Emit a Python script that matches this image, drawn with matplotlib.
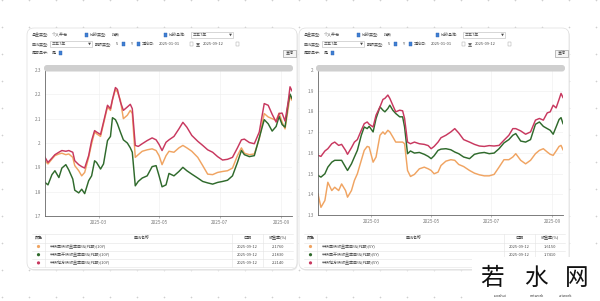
import matplotlib
matplotlib.use("Agg")
import matplotlib.pyplot as plt
import matplotlib.dates as mdates
from matplotlib.patches import FancyBboxPatch, Rectangle, Circle
import numpy as np

plt.rcParams["font.family"] = ["Noto Sans CJK SC", "DejaVu Sans"]

dates = ["2025-01-06", "2025-01-09", "2025-01-13", "2025-01-16", "2025-01-20", "2025-01-23", "2025-01-27", "2025-01-30",
         "2025-02-03", "2025-02-05", "2025-02-09", "2025-02-12", "2025-02-15", "2025-02-19", "2025-02-22", "2025-02-25", "2025-02-27",
         "2025-03-03", "2025-03-06", "2025-03-10", "2025-03-13", "2025-03-15", "2025-03-18", "2025-03-20", "2025-03-23", "2025-03-26", "2025-03-30",
         "2025-04-02", "2025-04-04", "2025-04-07", "2025-04-10", "2025-04-14", "2025-04-19", "2025-04-24", "2025-04-28",
         "2025-05-01", "2025-05-04", "2025-05-08", "2025-05-11", "2025-05-16", "2025-05-21", "2025-05-25", "2025-05-29",
         "2025-06-03", "2025-06-09", "2025-06-14", "2025-06-19", "2025-06-24", "2025-06-29",
         "2025-07-04", "2025-07-09", "2025-07-14", "2025-07-19", "2025-07-23", "2025-07-26", "2025-07-31",
         "2025-08-05", "2025-08-10", "2025-08-15", "2025-08-19", "2025-08-23", "2025-08-27", "2025-08-30",
         "2025-09-02", "2025-09-05", "2025-09-08", "2025-09-10", "2025-09-12"]

left_orange = [1.927, 1.914, 1.934, 1.948, 1.955, 1.958, 1.952, 1.955,
               1.941, 1.907, 1.886, 1.865, 1.879, 1.941, 1.997, 2.045, 2.038,
               2.027, 2.079, 2.148, 2.134, 2.176, 2.220, 2.210, 2.176, 2.100, 2.114,
               2.134, 2.121, 1.941, 1.952, 1.966, 1.972, 1.976, 1.969,
               1.948, 1.911, 1.948, 1.966, 1.962, 1.980, 1.990, 1.980,
               1.966, 1.941, 1.907, 1.872, 1.870, 1.879,
               1.883, 1.886, 1.897, 1.948, 1.980, 1.958, 1.952,
               1.955, 2.017, 2.121, 2.107, 2.100, 2.093, 2.123,
               2.086, 2.058, 2.137, 2.193, 2.176]
left_green = [1.838, 1.828, 1.870, 1.886, 1.858, 1.897, 1.911, 1.889,
              1.852, 1.806, 1.795, 1.810, 1.792, 1.845, 1.865, 1.927, 1.920,
              1.893, 1.914, 2.010, 2.027, 2.104, 2.096, 2.079, 2.045, 2.013, 2.000,
              1.980, 1.962, 1.824, 1.842, 1.856, 1.865, 1.903, 1.907,
              1.865, 1.820, 1.828, 1.875, 1.865, 1.883, 1.900, 1.886,
              1.872, 1.856, 1.842, 1.836, 1.831, 1.838,
              1.842, 1.847, 1.865, 1.920, 1.969, 1.952, 1.944,
              1.948, 2.021, 2.096, 2.079, 2.049, 2.068, 2.109,
              2.076, 2.065, 2.159, 2.201, 2.183]
left_red = [1.941, 1.920, 1.938, 1.952, 1.962, 1.969, 1.966, 1.969,
            1.962, 1.927, 1.911, 1.903, 1.897, 1.948, 2.010, 2.051, 2.045,
            2.035, 2.086, 2.155, 2.141, 2.179, 2.228, 2.220, 2.169, 2.134, 2.148,
            2.159, 2.141, 1.990, 1.986, 1.997, 2.010, 2.021, 2.013,
            1.994, 1.969, 2.003, 2.013, 2.027, 2.058, 2.085, 2.065,
            2.031, 2.007, 1.990, 1.972, 1.962, 1.944,
            1.930, 1.933, 1.941, 1.980, 2.013, 2.016, 2.002,
            1.997, 2.045, 2.162, 2.155, 2.118, 2.086, 2.121,
            2.123, 2.090, 2.165, 2.231, 2.214]

right_orange = [1.402, 1.337, 1.370, 1.458, 1.418, 1.434, 1.418, 1.450,
                1.418, 1.386, 1.418, 1.467, 1.499, 1.564, 1.612, 1.631, 1.628,
                1.555, 1.580, 1.685, 1.701, 1.690, 1.709, 1.701, 1.677, 1.652, 1.652,
                1.652, 1.644, 1.515, 1.486, 1.496, 1.523, 1.531, 1.523,
                1.515, 1.499, 1.507, 1.539, 1.560, 1.567, 1.564, 1.544,
                1.534, 1.515, 1.502, 1.494, 1.489, 1.489,
                1.496, 1.531, 1.567, 1.567, 1.580, 1.596, 1.564,
                1.547, 1.564, 1.596, 1.612, 1.620, 1.604, 1.593,
                1.588, 1.609, 1.631, 1.636, 1.615]
right_green = [1.491, 1.483, 1.499, 1.531, 1.555, 1.564, 1.564, 1.564,
               1.531, 1.515, 1.547, 1.580, 1.612, 1.685, 1.725, 1.717, 1.728,
               1.701, 1.766, 1.822, 1.806, 1.798, 1.814, 1.830, 1.806, 1.790, 1.774,
               1.774, 1.725, 1.596, 1.609, 1.599, 1.602, 1.593, 1.583,
               1.572, 1.586, 1.612, 1.618, 1.620, 1.615, 1.604, 1.596,
               1.580, 1.572, 1.593, 1.599, 1.602, 1.596,
               1.599, 1.620, 1.648, 1.664, 1.685, 1.693, 1.657,
               1.652, 1.664, 1.738, 1.749, 1.728, 1.717, 1.709,
               1.690, 1.725, 1.761, 1.770, 1.741]
right_red = [1.588, 1.583, 1.609, 1.620, 1.644, 1.652, 1.636, 1.641,
             1.612, 1.593, 1.625, 1.652, 1.664, 1.709, 1.741, 1.749, 1.738,
             1.725, 1.782, 1.822, 1.858, 1.863, 1.879, 1.863, 1.830, 1.798, 1.806,
             1.803, 1.766, 1.652, 1.644, 1.652, 1.644, 1.641, 1.635,
             1.620, 1.631, 1.652, 1.673, 1.685, 1.701, 1.717, 1.696,
             1.664, 1.652, 1.641, 1.633, 1.631, 1.635,
             1.633, 1.636, 1.661, 1.685, 1.717, 1.717, 1.706,
             1.690, 1.701, 1.758, 1.766, 1.758, 1.793, 1.798,
             1.830, 1.817, 1.858, 1.887, 1.867]

left_names = ["中债国债收益率曲线(到期)(10Y)", "中债国开债收益率曲线(到期)(10Y)", "中债地方债收益率曲线(到期)(10Y)"]
right_names = ["中债国债收益率曲线(到期)(5Y)", "中债国开债收益率曲线(到期)(5Y)", "中债地方债收益率曲线(到期)(5Y)"]
colors = ["#f0a462", "#2f6a2c", "#c8385f"]
left_yticks = [1.7, 1.8, 1.9, 2.0, 2.1, 2.2, 2.3]
right_yticks = [1.3, 1.4, 1.5, 1.6, 1.7, 1.8, 1.9, 2.0]

x = mdates.datestr2num(dates)

fig = plt.figure(figsize=(6, 3.01), dpi=100)
fig.patch.set_facecolor("white")
bg = fig.add_axes([0, 0, 1, 1], zorder=0)
fg = fig.add_axes([0, 0, 1, 1], zorder=5)
for a in (bg, fg):
    a.set_xlim(0, 600)
    a.set_ylim(301, 0)
    a.axis("off")
fg.patch.set_alpha(0)

# dotted background grid
gx, gy = np.meshgrid(np.arange(1.5, 600, 27), np.arange(0, 302, 27))
bg.scatter(gx.ravel(), gy.ravel(), marker="+", s=4, lw=0.4, color="#cfcfcf", zorder=0)


def txt(ox, px, py, s, **kw):
    kw.setdefault("fontsize", 2.9)
    kw.setdefault("color", "#4a4a4a")
    kw.setdefault("va", "center")
    kw.setdefault("ha", "left")
    bg.text(ox + px, py, s, zorder=5, **kw)


def checkbox(ox, px, py, on=True):
    if on:
        bg.add_patch(Rectangle((ox + px, py - 1.7), 3.4, 3.4, fc="#3f7fd3", ec="#2c64b3", lw=0.3, zorder=5))
    else:
        bg.add_patch(Rectangle((ox + px, py - 1.7), 3.4, 3.4, fc="white", ec="#9a9a9a", lw=0.3, zorder=5))


def dropdown(ox, px, py, w, s):
    bg.add_patch(Rectangle((ox + px, py - 3.3), w, 6.6, fc="white", ec="#b8b8b8", lw=0.4, zorder=5))
    txt(ox, px + 2, py, s)
    txt(ox, px + w - 2.5, py, "▼", fontsize=2.2, ha="center", color="#444444")


def panel(ox, ax_rect, series, names, ylo, yhi, yticks):
    # card
    bg.add_patch(FancyBboxPatch((ox + 27.8, 29.2), 270, 241.5, boxstyle="round,pad=0,rounding_size=7",
                                fc="#e9e9e9", ec="none", zorder=1))
    bg.add_patch(FancyBboxPatch((ox + 27, 28), 270, 241.5, boxstyle="round,pad=0,rounding_size=7",
                                fc="white", ec="#dddddd", lw=0.5, zorder=2))

    # controls
    txt(ox, 32, 35, "基金类型:")
    txt(ox, 52, 35, "个人养老")
    checkbox(ox, 85, 35)
    txt(ox, 90, 35, "比较类型:")
    txt(ox, 112, 35, "指数")
    checkbox(ox, 164, 35)
    txt(ox, 169, 35, "比较基准:")
    dropdown(ox, 191, 35, 42, "三五7年")

    txt(ox, 32, 44, "曲线类型:")
    dropdown(ox, 50, 44, 42, "三五7年")
    txt(ox, 95, 44, "期限类型:")
    txt(ox, 116, 44, "5")
    checkbox(ox, 122, 44)
    txt(ox, 130, 44, "Y")
    checkbox(ox, 137, 44)
    txt(ox, 142, 44, "起始日:")
    txt(ox, 159, 44, "2025-01-01")
    checkbox(ox, 190, 44, on=False)
    txt(ox, 196, 44, "至:")
    txt(ox, 203, 44, "2025-09-12")
    checkbox(ox, 236, 44, on=False)

    txt(ox, 32, 53, "是否显示:")
    txt(ox, 52, 53, "是")
    checkbox(ox, 59, 53)
    bg.add_patch(Rectangle((ox + 283, 49.5), 13, 7.5, fc="#f5f5f5", ec="#8c8c8c", lw=0.4, zorder=5))
    txt(ox, 289.5, 53.2, "查询", ha="center")

    # title bar
    fg.add_patch(FancyBboxPatch((ox + 44, 65), 249, 6.5, boxstyle="round,pad=0,rounding_size=3",
                                fc="#cfcfcf", ec="none", zorder=2))

    # chart
    ax = fig.add_axes(ax_rect, zorder=2)
    ax.patch.set_alpha(0)
    for vals, c in zip(series, colors):
        ax.plot(x, vals, color=c, lw=1.05, solid_joinstyle="round")
    ax.set_xlim(x[0], x[-1])
    ax.set_ylim(ylo, yhi)
    ax.set_yticks(yticks)
    ax.set_yticklabels([f"{v:g}" for v in yticks])
    ax.xaxis.set_major_locator(mdates.MonthLocator(bymonth=[3, 5, 7, 9]))
    ax.xaxis.set_major_formatter(mdates.DateFormatter("%Y-%m"))
    ax.tick_params(axis="y", length=0, pad=3, labelsize=3.3, labelcolor="#777777")
    ax.tick_params(axis="x", length=1.5, width=0.4, color="#888888", pad=1.5, labelsize=3.3, labelcolor="#777777")
    ax.grid(True, color="#eeeeee", lw=0.4)
    ax.set_axisbelow(True)
    for s in ("top", "right"):
        ax.spines[s].set_visible(False)
    for s in ("left", "bottom"):
        ax.spines[s].set_color("#666666")
        ax.spines[s].set_linewidth(0.6)

    # table
    for yy in (233.5, 242.5, 250.5, 258.5, 266.5):
        bg.plot([ox + 32, ox + 293], [yy, yy], color="#e4e4e4", lw=0.4, zorder=3)
    for xx in (45, 232, 263):
        bg.plot([ox + xx, ox + xx], [233.5, 266.5], color="#e4e4e4", lw=0.4, zorder=3)
    txt(ox, 38.5, 238, "颜色", ha="center", fontweight="medium", color="#333333")
    txt(ox, 142, 238, "曲线名称", ha="center", fontweight="medium", color="#333333")
    txt(ox, 247.5, 238, "日期", ha="center", fontweight="medium", color="#333333")
    txt(ox, 278, 238, "收益率(%)", ha="center", fontweight="medium", color="#333333")
    for i, (vals, c, nm) in enumerate(zip(series, colors, names)):
        ry = 246.5 + i * 8.2
        bg.add_patch(Circle((ox + 38.5, ry), 1.6, fc=c, ec="none", zorder=5))
        txt(ox, 50, ry, nm)
        txt(ox, 247.5, ry, dates[-1], ha="center")
        txt(ox, 278, ry, f"{vals[-1]:.4f}", ha="center")


panel(0, [45 / 600, 1 - 216 / 301, 247 / 600, 146 / 301],
      [left_orange, left_green, left_red], left_names, 1.7, 2.3, left_yticks)
panel(272, [318 / 600, 1 - 215 / 301, 245 / 600, 145 / 301],
      [right_orange, right_green, right_red], right_names, 1.3, 2.0, right_yticks)

# watermark
fg.add_patch(Rectangle((472, 257), 130, 46, fc="white", ec="none", zorder=3))
for ch, cx in zip("若水网", (492, 536, 577)):
    fg.text(cx, 278.5, ch, fontsize=17, ha="center", va="center", color="#111111", fontweight="medium", zorder=4)
for w, cx in zip(("ruoshui", "network", "artwork"), (500, 537, 565)):
    fg.text(cx, 296, w, fontsize=2.6, ha="center", va="center", color="#333333", zorder=4)

fig.savefig("out.png", dpi=100, facecolor="white")
